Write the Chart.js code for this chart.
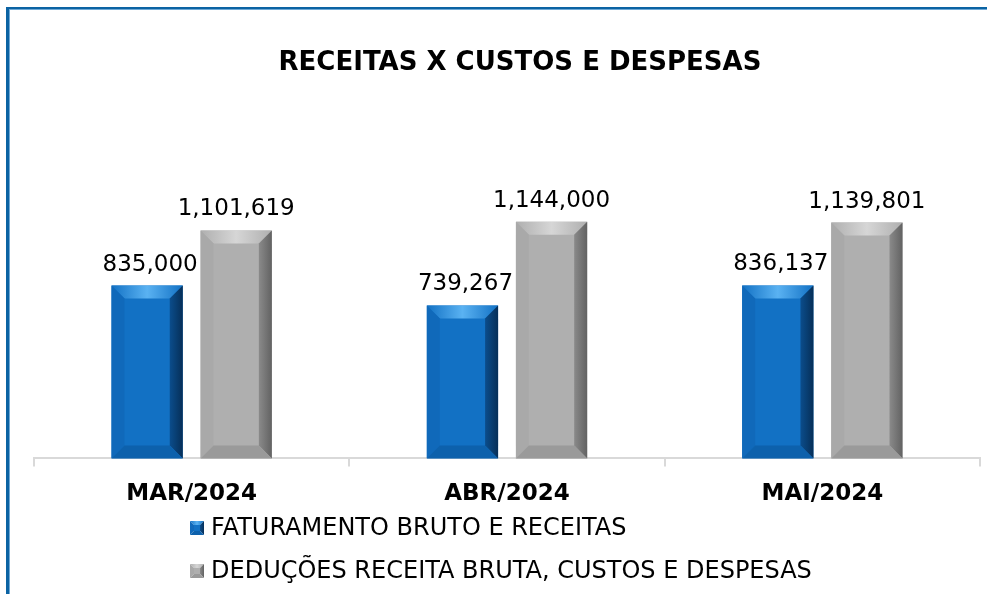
<!DOCTYPE html>
<html>
<head>
<meta charset="utf-8">
<script src="https://cdn.jsdelivr.net/npm/chart.js@4"></script>
<style>
  html, body { margin: 0; padding: 0; background: #fff; overflow: hidden; }
  #wrap { position: relative; width: 987px; height: 594px; overflow: hidden; }
  #moldura { position: absolute; left: 6px; top: 7px; width: 1200px; height: 800px;
    border-top: 2px solid #0b63a3; border-left: 3px solid #0b63a3; }
  #moldura2 { position: absolute; left: 9px; top: 9px; width: 1200px; height: 800px;
    border-top: 1px solid #6fa9d6; border-left: 1px solid #6fa9d6; }
  canvas { position: absolute; left: 0; top: 0; }
</style>
</head>
<body>
<div id="wrap">
  <canvas id="grafico" width="987" height="594"></canvas>
  <div id="moldura"></div>
  <div id="moldura2"></div>
</div>
<script>
const titulo = "RECEITAS X CUSTOS E DESPESAS";
const meses = ["MAR/2024", "ABR/2024", "MAI/2024"];
const faturamento = [835000, 739267, 836137];
const deducoes = [1101619, 1144000, 1139801];
const nomesSeries = ["FATURAMENTO BRUTO E RECEITAS", "DEDUÇÕES RECEITA BRUTA, CUSTOS E DESPESAS"];

const fonte = "'DejaVu Sans', 'Noto Sans', sans-serif";

// cores de cada série: face, topo, esquerda, direita, base
const cores = [
  { face: "#1271c4", topo: "#5ab2f2", esq: "#1069ba", dir: "#0b4d8c", dirEscuro: "#062f58", base: "#0d61ac" },
  { face: "#afafaf", topo: "#d6d6d6", esq: "#a9a9a9", dir: "#8a8a8a", dirEscuro: "#626262", base: "#9a9a9a" }
];

function fmt(v) {
  return v.toLocaleString("en-US");
}

function bisel(ctx, x0, y0, x1, y1, b, c) {
  // topo
  let g = ctx.createLinearGradient(x0, 0, x1, 0);
  g.addColorStop(0, c.face);
  g.addColorStop(0.5, c.topo);
  g.addColorStop(1, c.face);
  ctx.fillStyle = g;
  ctx.beginPath();
  ctx.moveTo(x0, y0); ctx.lineTo(x1, y0); ctx.lineTo(x1 - b, y0 + b); ctx.lineTo(x0 + b, y0 + b);
  ctx.closePath(); ctx.fill();
  // esquerda
  ctx.fillStyle = c.esq;
  ctx.beginPath();
  ctx.moveTo(x0, y0); ctx.lineTo(x0 + b, y0 + b); ctx.lineTo(x0 + b, y1 - b); ctx.lineTo(x0, y1);
  ctx.closePath(); ctx.fill();
  // direita
  g = ctx.createLinearGradient(x1 - b, 0, x1, 0);
  g.addColorStop(0, c.dir);
  g.addColorStop(1, c.dirEscuro);
  ctx.fillStyle = g;
  ctx.beginPath();
  ctx.moveTo(x1, y0); ctx.lineTo(x1, y1); ctx.lineTo(x1 - b, y1 - b); ctx.lineTo(x1 - b, y0 + b);
  ctx.closePath(); ctx.fill();
  // base
  ctx.fillStyle = c.base;
  ctx.beginPath();
  ctx.moveTo(x0, y1); ctx.lineTo(x1, y1); ctx.lineTo(x1 - b, y1 - b); ctx.lineTo(x0 + b, y1 - b);
  ctx.closePath(); ctx.fill();
}

const extras = {
  id: "extras",
  afterDatasetsDraw(chart) {
    const ctx = chart.ctx;
    ctx.save();
    chart.data.datasets.forEach((ds, i) => {
      chart.getDatasetMeta(i).data.forEach((bar, j) => {
        const p = bar.getProps(["x", "y", "base", "width"], true);
        const x0 = p.x - p.width / 2, x1 = p.x + p.width / 2;
        bisel(ctx, x0, p.y, x1, p.base, 13, cores[i]);
        ctx.fillStyle = "#000";
        ctx.font = "23px " + fonte;
        ctx.textAlign = "center";
        ctx.textBaseline = "alphabetic";
        ctx.fillText(fmt(ds.data[j]), p.x + (i === 0 ? 3 : 0), p.y - 15);
      });
    });
    ctx.restore();
  },
  afterDraw(chart) {
    const ctx = chart.ctx;
    ctx.save();
    // título
    ctx.fillStyle = "#000";
    ctx.font = "bold 26px " + fonte;
    ctx.textAlign = "center";
    ctx.textBaseline = "middle";
    ctx.fillText(titulo, 520, 63);
    // legenda
    ctx.font = "24px " + fonte;
    ctx.textAlign = "left";
    chart.data.datasets.forEach((ds, i) => {
      const y = 528 + i * 43;
      bisel(ctx, 190, y - 7, 204, y + 7, 4, cores[i]);
      ctx.fillStyle = cores[i].face;
      ctx.fillRect(194, y - 3, 6, 6);
      ctx.fillStyle = "#000";
      ctx.fillText(ds.label, 211, y + 1);
    });
    ctx.restore();
  }
};

new Chart(document.getElementById("grafico"), {
  type: "bar",
  data: {
    labels: meses,
    datasets: [
      { label: nomesSeries[0], data: faturamento, backgroundColor: cores[0].face,
        categoryPercentage: 0.565, barPercentage: 0.8 },
      { label: nomesSeries[1], data: deducoes, backgroundColor: cores[1].face,
        categoryPercentage: 0.565, barPercentage: 0.8 }
    ]
  },
  options: {
    responsive: false,
    animation: false,
    layout: { padding: { left: 34, right: 7, top: 148, bottom: 72 } },
    plugins: {
      legend: { display: false },
      title: { display: false },
      tooltip: { enabled: false }
    },
    scales: {
      x: {
        grid: { offset: true, drawOnChartArea: false, tickLength: 8, color: "#d9d9d9", lineWidth: 2 },
        border: { color: "#d9d9d9", width: 2 },
        ticks: { color: "#000", padding: 14, font: { family: fonte, size: 23, weight: "bold" } }
      },
      y: { display: false, min: 0, max: 1500000 }
    }
  },
  plugins: [extras]
});
</script>
</body>
</html>
